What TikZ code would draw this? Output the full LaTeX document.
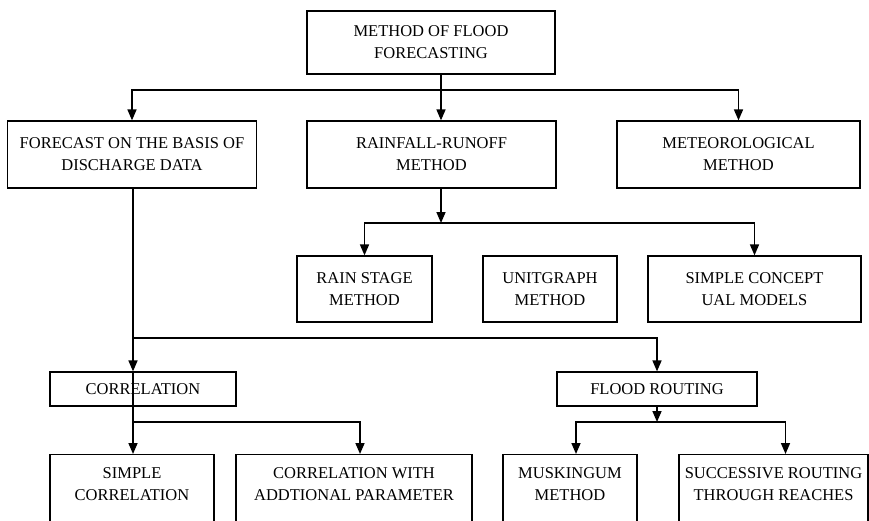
\documentclass[tikz,border=0pt]{standalone}
\usepackage{fontspec}
\setmainfont{Liberation Serif}
\usepackage{tikz}
\usetikzlibrary{positioning}
\usetikzlibrary{arrows.meta}

\tikzset{
  cell/.style={draw, rectangle, line width=1.2pt, align=center, inner sep=0pt,
    font=\fontsize{16.5}{22}\selectfont},
  txt/.style={align=center, inner sep=0pt, font=\fontsize{16.5}{22}\selectfont},
  link/.style={line width=1.6pt},
  arrow/.style={line width=1.6pt, -{Triangle[length=11pt,width=9pt]}}
}

\begin{document}
\begin{tikzpicture}[x=1pt, y=-1pt]
            \useasboundingbox (0,0) rectangle (869,520);

            % Top and second row
            \node[cell, minimum width=248, minimum height=63] (top) at (431,42.5) {METHOD OF FLOOD\\FORECASTING};
            \node[cell, minimum width=249, minimum height=67] (fc) at (132,154.5) {FORECAST ON THE BASIS OF\\DISCHARGE DATA};
            \node[cell, minimum width=249, minimum height=67] (rain) at (431.5,154.5) {RAINFALL-RUNOFF\\METHOD};
            \node[cell, minimum width=243, minimum height=67] (met) at (738.5,154.5) {METEOROLOGICAL\\METHOD};

            % Rainfall-runoff methods
            \node[cell, minimum width=135, minimum height=66] (rs) at (364.5,289) {RAIN STAGE\\METHOD};
            \node[cell, minimum width=134, minimum height=66] (ug) at (550,289) {UNITGRAPH\\METHOD};
            \node[cell, minimum width=213, minimum height=66] (scm) at (754.5,289) {SIMPLE CONCEPT\\UAL MODELS};

            % Correlation and flood routing
            \node[cell, minimum width=186, minimum height=34] (corr) at (143,389) {CORRELATION};
            \node[cell, minimum width=200, minimum height=34] (fr) at (657,389) {FLOOD ROUTING};

            % Bottom row (cut off by the page edge)
            \node[cell, minimum width=164, minimum height=90, anchor=north] (sc) at (132,454) {};
            \node[cell, minimum width=236, minimum height=90, anchor=north] (cwa) at (354,454) {};
            \node[cell, minimum width=134, minimum height=90, anchor=north] (musk) at (570,454) {};
            \node[cell, minimum width=189, minimum height=90, anchor=north] (succ) at (773.5,454) {};
            \node[txt, below=13pt of sc.north] (sctxt) {SIMPLE\\CORRELATION};
            \node[txt, below=13pt of cwa.north] (cwatxt) {CORRELATION WITH\\ADDTIONAL PARAMETER};
            \node[txt, below=13pt of musk.north] (musktxt) {MUSKINGUM\\METHOD};
            \node[txt, below=13pt of succ.north] (succtxt) {SUCCESSIVE ROUTING\\THROUGH REACHES};

            % Branch points
            \coordinate (j1) at (441,90);
            \coordinate (j2) at (441,223);
            \coordinate (j3) at (133,338);
            \coordinate (j5) at (133,422);
            \coordinate (j6) at (657,422);

            \draw[link] (top.south -| j1) -- (j1);
            \draw[arrow] (j1) -- (j1 |- rain.north);
            \draw[arrow] (j1) -| (fc.north);
            \draw[arrow] (j1) -| (met.north);

            \draw[arrow] (rain.south -| j2) -- (j2);
            \draw[arrow] (j2) -| (rs.north);
            \draw[arrow] (j2) -| (scm.north);

            \draw[link] (fc.south -| j3) -- (j3);
            \draw[arrow] (j3) -- (j3 |- corr.north);
            \draw[arrow] (j3) -| (fr.north);

            \draw[link] (corr.north -| j5) -- (j5);
            \draw[arrow] (j5) -- (j5 |- sc.north);
            \draw[arrow] (j5) -| ([xshift=6pt]cwa.north);

            \draw[arrow] (fr.south) -- (j6);
            \draw[arrow] (j6) -| ([xshift=6pt]musk.north);
            \draw[arrow] (j6) -| ([xshift=12pt]succ.north);
        \end{tikzpicture}
\end{document}
